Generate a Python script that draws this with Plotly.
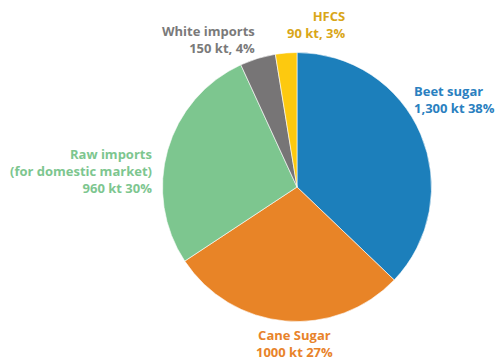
import plotly.graph_objects as go

labels = ["Beet sugar", "Cane Sugar", "Raw imports (for domestic market)", "White imports", "HFCS"]
values_kt = [1300, 1000, 960, 150, 90]
label_texts = [
    "Beet sugar<br>1,300 kt 38%",
    "Cane Sugar<br>1000 kt 27%",
    "Raw imports<br>(for domestic market)<br>960 kt 30%",
    "White imports<br>150 kt, 4%",
    "HFCS<br>90 kt, 3%",
]
slice_colors = ["#1c7fbb", "#e88427", "#7dc68f", "#777576", "#fdc90f"]
text_colors = ["#2a80c0", "#e8832a", "#7dc68f", "#7a7a7a", "#d9a618"]

W, H = 500, 362
cx, cy, r = 297, 187, 134.5

fig = go.Figure(go.Pie(
    labels=labels,
    values=values_kt,
    sort=False,
    direction="clockwise",
    rotation=0,
    textinfo="none",
    hoverinfo="label+value",
    marker=dict(colors=slice_colors, line=dict(color="white", width=0.6)),
    domain=dict(x=[(cx - r) / W, (cx + r) / W], y=[1 - (cy + r) / H, 1 - (cy - r) / H]),
    showlegend=False,
))

# label anchor positions (pixels) and alignment
anchors = [
    (413, 100, "left"),
    (294, 343, "center"),
    (153, 171, "right"),
    (256, 39, "right"),
    (346, 25, "right"),
]

annotations = []
for txt, col, (x, y, al) in zip(label_texts, text_colors, anchors):
    annotations.append(dict(
        x=x / W, y=1 - y / H, xref="paper", yref="paper",
        text="<b>" + txt + "</b>", showarrow=False,
        xanchor=al, yanchor="middle", align=al, borderpad=0,
        font=dict(family="Open Sans, Noto Sans, sans-serif", size=13, color=col),
    ))

fig.update_layout(
    width=W, height=H,
    margin=dict(l=0, r=0, t=0, b=0),
    paper_bgcolor="white", plot_bgcolor="white",
    annotations=annotations,
)

fig.write_html("out.html", config={"displayModeBar": False},
               post_script="document.body.style.margin='0';")
